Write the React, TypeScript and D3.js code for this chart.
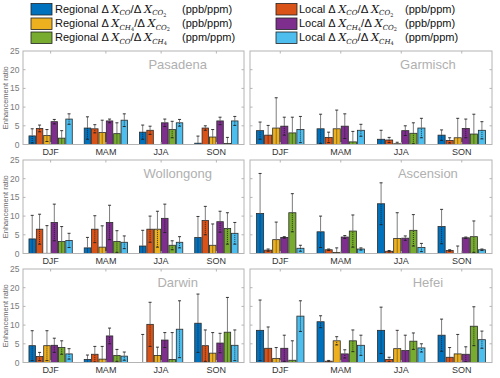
import React from "react";
import * as d3 from "d3";

const seasons = ["DJF", "MAM", "JJA", "SON"];
const yTicks = [0, 5, 10, 15, 20, 25];
const seriesColors = ["#0072BD", "#D95319", "#EDB120", "#7E2F8E", "#77AC30", "#4DBEEE"];

// each row: season; each column: [RegCO/CO2, LocCO/CO2, RegCH4/CO2, LocCH4/CO2, RegCO/CH4, LocCO/CH4]
const pasadenaVals = [
  [2.3, 4.3, 2.4, 6.1, 1.7, 6.8],
  [4.4, 4.2, 3.2, 6.3, 2.9, 6.5],
  [3.3, 3.8, 0, 5.8, 4.0, 5.8],
  [0.35, 4.4, 2.0, 6.3, 0.3, 6.3],
];
const pasadenaErr = [
  [1.9, 0.9, 1.6, 0.6, 2.0, 1.4],
  [3.0, 1.1, 3.3, 0.5, 2.9, 1.7],
  [1.9, 1.1, 0, 1.0, 2.2, 0.9],
  [1.9, 0.6, 2.0, 1.0, 1.6, 1.2],
];
const garmischVals = [
  [3.7, 2.5, 4.4, 4.9, 3.1, 4.0],
  [4.2, 1.9, 4.2, 4.9, 0.7, 3.8],
  [1.4, 1.2, 0.2, 3.7, 3.0, 4.4],
  [2.5, 1.1, 1.8, 4.3, 2.8, 3.8],
];
const garmischErr = [
  [2.3, 2.6, 8.1, 2.4, 4.2, 3.5],
  [3.9, 1.4, 5.0, 3.3, 2.8, 1.6],
  [2.4, 0.7, 0.4, 1.3, 2.8, 2.6],
  [1.4, 0.7, 5.2, 2.5, 5.3, 2.3],
];
const wollongongVals = [
  [3.9, 6.5, 0.05, 8.3, 3.2, 3.5],
  [1.5, 6.5, 1.7, 8.3, 3.2, 3.0],
  [2.0, 6.5, 6.5, 9.4, 2.2, 3.0],
  [4.3, 8.8, 2.2, 8.5, 6.7, 5.4],
];
const wollongongErr = [
  [6.3, 4.0, 7.4, 4.9, 4.0, 1.9],
  [2.8, 3.6, 5.7, 4.6, 2.9, 1.7],
  [4.2, 3.5, 4.8, 3.8, 1.2, 1.5],
  [5.6, 3.8, 5.7, 2.8, 4.2, 2.9],
];
const ascensionVals = [
  [10.7, 0.9, 3.7, 4.3, 10.9, 1.4],
  [5.8, 1.0, 0.3, 4.4, 6.0, 1.2],
  [13.3, 0.6, 4.0, 4.1, 6.2, 1.6],
  [7.2, 0.8, 0.0, 4.2, 4.5, 1.0],
];
const ascensionErr = [
  [10.7, 0.3, 4.7, 0.2, 5.1, 0.8],
  [4.2, 0.2, 1.2, 0.4, 4.3, 0.3],
  [5.6, 0.2, 6.9, 0.6, 4.2, 1.1],
  [4.6, 0.2, 2.0, 0.2, 4.2, 0.2],
];
const darwinVals = [
  [4.5, 1.6, 4.5, 4.6, 4.0, 2.3],
  [0.8, 2.2, 0.9, 7.1, 1.9, 1.7],
  [0.0, 10.2, 1.9, 6.0, 0.8, 8.9],
  [10.5, 4.5, 2.5, 5.2, 8.1, 4.6],
];
const darwinErr = [
  [4.0, 1.1, 4.0, 1.9, 1.8, 1.4],
  [1.2, 2.1, 3.4, 2.1, 1.6, 1.1],
  [7.5, 5.9, 2.2, 2.0, 7.2, 7.6],
  [7.8, 4.2, 5.5, 2.6, 9.3, 4.1],
];
const hefeiVals = [
  [8.6, 3.8, 1.1, 3.8, 0.6, 12.4],
  [10.9, 0.35, 5.8, 2.3, 5.8, 4.6],
  [8.6, 0.8, 3.7, 3.2, 5.7, 3.9],
  [7.3, 1.4, 2.3, 2.2, 9.7, 6.1],
];
const hefeiErr = [
  [8.1, 5.7, 2.9, 3.5, 5.2, 4.1],
  [1.6, 0.2, 1.1, 1.1, 2.9, 2.7],
  [6.2, 0.6, 4.9, 4.1, 2.2, 1.1],
  [4.3, 2.6, 5.2, 2.0, 5.2, 2.3],
];

const stations = [
  { name: "Pasadena", vals: pasadenaVals, err: pasadenaErr, col: 0, row: 0 },
  { name: "Garmisch", vals: garmischVals, err: garmischErr, col: 1, row: 0 },
  { name: "Wollongong", vals: wollongongVals, err: wollongongErr, col: 0, row: 1 },
  { name: "Ascension", vals: ascensionVals, err: ascensionErr, col: 1, row: 1 },
  { name: "Darwin", vals: darwinVals, err: darwinErr, col: 0, row: 2 },
  { name: "Hefei", vals: hefeiVals, err: hefeiErr, col: 1, row: 2 },
];

const legendPrefix = ["Regional", "Local"];
const legendRatios = [
  { num: ["CO", ""], den: ["CO", "2"], unit: "(ppb/ppm)" },
  { num: ["CH", "4"], den: ["CO", "2"], unit: "(ppb/ppm)" },
  { num: ["CO", ""], den: ["CH", "4"], unit: "(ppm/ppm)" },
];

const colX = [
  [23, 244],
  [250, 492],
];
const rowTop = [51, 160, 269];
const rowH = 93.5;
const titleFrac = [0.7, 0.735];

const FONT = "Liberation Sans, Arial, Helvetica, sans-serif";
const MATH = "DejaVu Serif, serif";

type Seg = { t: string; italic?: boolean; size: number; shift: number; fam?: string };

function MathLabel({ x, y, prefix, num, den }: any) {
  const segs: Seg[] = [
    { t: prefix + " Δ ", size: 11, shift: 0, fam: FONT },
    { t: "X", italic: true, size: 11.5, shift: 0, fam: MATH },
    { t: num[0], italic: true, size: 7, shift: 2.5, fam: MATH },
  ];
  if (num[1]) segs.push({ t: num[1], size: 5, shift: 4, fam: MATH });
  segs.push({ t: "/Δ ", size: 11.5, shift: 0, fam: FONT });
  segs.push({ t: "X", italic: true, size: 11.5, shift: 0, fam: MATH });
  segs.push({ t: den[0], italic: true, size: 7, shift: 2.5, fam: MATH });
  if (den[1]) segs.push({ t: den[1], size: 5, shift: 4, fam: MATH });
  let prev = 0;
  return (
    <text x={x} y={y} fill="#111">
      {segs.map((s, i) => {
        const dy = s.shift - prev;
        prev = s.shift;
        return (
          <tspan
            key={i}
            dy={dy}
            fontSize={s.size}
            fontStyle={s.italic ? "italic" : "normal"}
            fontFamily={s.fam}
          >
            {s.t}
          </tspan>
        );
      })}
    </text>
  );
}

function Panel({ st }: any) {
  const [x0, x1] = colX[st.col];
  const top = rowTop[st.row];
  const bottom = top + rowH;
  const x = d3.scaleLinear().domain([0.5, 4.5]).range([x0, x1]);
  const y = d3.scaleLinear().domain([0, 25]).range([bottom, top]);
  const groupW = 0.8;
  const slot = groupW / 6;
  const bw = (x(slot) - x(0)) * 0.88;
  const axisCol = "#b4b4b4";
  const clipId = `clip-${st.name}`;
  return (
    <g>
      <defs>
        <clipPath id={clipId}>
          <rect x={x0} y={top} width={x1 - x0} height={rowH} />
        </clipPath>
      </defs>
      <rect x={x0} y={top} width={x1 - x0} height={rowH} fill="white" />
      <text
        x={x0 + (x1 - x0) * titleFrac[st.col]}
        y={top + 18}
        textAnchor="middle"
        fontSize={13}
        fontFamily={FONT}
        fill="#b0b0b0"
      >
        {st.name}
      </text>
      <g clipPath={`url(#${clipId})`}>
        {st.vals.map((vals: number[], si: number) =>
          vals.map((v: number, k: number) => {
            const cx = x(si + 1 - groupW / 2 + slot * (k + 0.5));
            const e = st.err[si][k];
            const lo = Math.max(0, v - e);
            const hi = v + e;
            return (
              <g key={`${si}-${k}`}>
                <rect
                  x={cx - bw / 2}
                  y={y(v)}
                  width={bw}
                  height={y(0) - y(v)}
                  fill={seriesColors[k]}
                  stroke="#2b2b2b"
                  strokeWidth={0.8}
                />
                {e > 0 && (
                  <g>
                    <line x1={cx} x2={cx} y1={y(v)} y2={y(hi)} stroke="#6e6e6e" strokeWidth={0.9} />
                    <line
                      x1={cx}
                      x2={cx}
                      y1={y(lo)}
                      y2={y(v)}
                      stroke="#111"
                      strokeWidth={0.8}
                      strokeDasharray="1,1"
                    />
                    <line x1={cx - 1.5} x2={cx + 1.5} y1={y(hi)} y2={y(hi)} stroke="#222" strokeWidth={0.9} />
                    {v - e > 0 && (
                      <line x1={cx - 1.5} x2={cx + 1.5} y1={y(lo)} y2={y(lo)} stroke="#222" strokeWidth={0.9} />
                    )}
                  </g>
                )}
              </g>
            );
          })
        )}
      </g>
      <rect x={x0} y={top} width={x1 - x0} height={rowH} fill="none" stroke={axisCol} strokeWidth={1} />
      {yTicks.slice(1, -1).map((t) => (
        <g key={t}>
          <line x1={x0} x2={x0 + 2.5} y1={y(t)} y2={y(t)} stroke={axisCol} />
          <line x1={x1} x2={x1 - 2.5} y1={y(t)} y2={y(t)} stroke={axisCol} />
        </g>
      ))}
      {seasons.map((s, i) => (
        <g key={s}>
          <line x1={x(i + 1)} x2={x(i + 1)} y1={top} y2={top + 2.5} stroke={axisCol} />
          <line x1={x(i + 1)} x2={x(i + 1)} y1={bottom} y2={bottom - 2.5} stroke={axisCol} />
          <text
            x={x(i + 1)}
            y={bottom + 10}
            textAnchor="middle"
            fontSize={9}
            fontFamily={FONT}
            fill="#333"
          >
            {s}
          </text>
        </g>
      ))}
      {st.col === 0 && (
        <g>
          {yTicks.map((t) => (
            <text
              key={t}
              x={x0 - 3.5}
              y={y(t) + 3}
              textAnchor="end"
              fontSize={8.5}
              fontFamily={FONT}
              fill="#7a7a7a"
            >
              {t}
            </text>
          ))}
          <text
            transform={`translate(7.5,${top + rowH / 2}) rotate(-90)`}
            textAnchor="middle"
            fontSize={7.5}
            fontFamily={FONT}
            fill="#6a6a6a"
          >
            Enhancement ratio
          </text>
        </g>
      )}
    </g>
  );
}

export default function App() {
  const legendCols = [
    { sx: 31, tx: 55, ux: 182 },
    { sx: 276, tx: 299, ux: 405 },
  ];
  const legendRowY = [9, 23.5, 37.5];
  return (
    <svg
      width={500}
      height={378}
      style={{ position: "absolute", left: 0, top: 0, background: "white" }}
      fontFamily={FONT}
    >
      <rect width={500} height={378} fill="white" />
      {legendCols.map((c, ci) =>
        legendRatios.map((r, ri) => (
          <g key={`${ci}-${ri}`}>
            <rect
              x={c.sx}
              y={legendRowY[ri] - 5.5}
              width={21}
              height={11.5}
              fill={seriesColors[ri * 2 + ci]}
              stroke="#222"
              strokeWidth={0.8}
            />
            <MathLabel x={c.tx} y={legendRowY[ri] + 3.5} prefix={legendPrefix[ci]} num={r.num} den={r.den} />
            <text x={c.ux} y={legendRowY[ri] + 3.5} fontSize={11} fontFamily={FONT} fill="#111">
              {r.unit}
            </text>
          </g>
        ))
      )}
      {stations.map((st) => (
        <Panel key={st.name} st={st} />
      ))}
    </svg>
  );
}
